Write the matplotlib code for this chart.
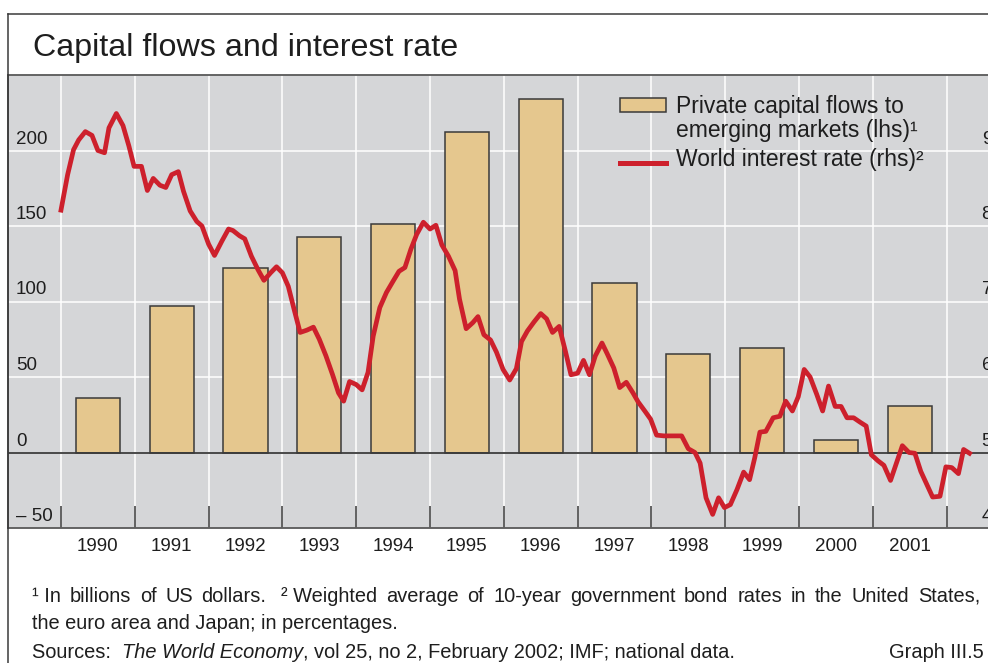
import matplotlib
matplotlib.use("Agg")
import matplotlib.pyplot as plt
from matplotlib.lines import Line2D
from matplotlib.patches import Rectangle
from matplotlib.transforms import blended_transform_factory, ScaledTranslation

plt.rcParams["font.family"] = ["Liberation Sans", "DejaVu Sans"]

# -----------------------------
# Data
# -----------------------------
years = [1990, 1991, 1992, 1993, 1994, 1995, 1996, 1997, 1998, 1999, 2000, 2001]
year_labels = [str(y) for y in years]
# private capital flows to emerging markets, bn USD (lhs)
flows = [36, 97, 122, 143, 151, 212, 234, 112, 65, 69, 8, 31]

# world interest rate, % (rhs), roughly monthly
rate_t = [1990.00, 1990.09, 1990.17, 1990.24, 1990.33, 1990.42, 1990.50, 1990.59, 1990.65, 1990.75, 1990.84, 1990.92, 1990.99,
          1991.09, 1991.17, 1991.25, 1991.34, 1991.42, 1991.50, 1991.59, 1991.66, 1991.75, 1991.84, 1991.91,
          1992.00, 1992.08, 1992.18, 1992.27, 1992.33, 1992.42, 1992.49, 1992.58, 1992.67, 1992.75, 1992.84, 1992.92,
          1993.00, 1993.08, 1993.16, 1993.24, 1993.33, 1993.42, 1993.50, 1993.59, 1993.68, 1993.76, 1993.83, 1993.91,
          1994.00, 1994.08, 1994.16, 1994.23, 1994.32, 1994.41, 1994.50, 1994.58, 1994.66, 1994.74, 1994.82, 1994.91,
          1995.00, 1995.08, 1995.16, 1995.25, 1995.34, 1995.40, 1995.49, 1995.58, 1995.65, 1995.73, 1995.82, 1995.90,
          1995.99, 1996.08, 1996.17, 1996.24, 1996.32, 1996.41, 1996.50, 1996.58, 1996.66, 1996.75, 1996.83, 1996.91,
          1997.00, 1997.08, 1997.16, 1997.24, 1997.33, 1997.40, 1997.49, 1997.57, 1997.66, 1997.75, 1997.82, 1997.91,
          1997.99, 1998.07, 1998.17, 1998.30, 1998.41, 1998.50, 1998.59, 1998.66, 1998.74, 1998.83, 1998.91,
          1998.99, 1999.07, 1999.16, 1999.25, 1999.33, 1999.40, 1999.47, 1999.55, 1999.65, 1999.74, 1999.82, 1999.91,
          1999.99, 2000.07, 2000.15, 2000.24, 2000.32, 2000.40, 2000.49, 2000.57, 2000.65, 2000.74, 2000.83, 2000.91,
          2000.98, 2001.07, 2001.15, 2001.24, 2001.32, 2001.40, 2001.49, 2001.57, 2001.65, 2001.73, 2001.81, 2001.91,
          2001.99, 2002.07, 2002.16, 2002.23, 2002.31]
rate_v = [8.21, 8.68, 9.01, 9.14, 9.25, 9.20, 9.00, 8.97, 9.30, 9.49, 9.33, 9.06, 8.79,
          8.79, 8.47, 8.63, 8.54, 8.51, 8.68, 8.72, 8.46, 8.20, 8.06, 8.00,
          7.76, 7.61, 7.80, 7.96, 7.94, 7.87, 7.83, 7.60, 7.42, 7.28, 7.38, 7.46,
          7.38, 7.20, 6.89, 6.59, 6.62, 6.66, 6.50, 6.28, 6.03, 5.79, 5.68, 5.94,
          5.90, 5.83, 6.06, 6.54, 6.92, 7.12, 7.27, 7.40, 7.45, 7.69, 7.89, 8.05,
          7.96, 8.01, 7.75, 7.60, 7.41, 7.03, 6.64, 6.72, 6.80, 6.56, 6.49, 6.33,
          6.10, 5.96, 6.11, 6.47, 6.61, 6.73, 6.84, 6.77, 6.59, 6.67, 6.36, 6.03,
          6.05, 6.22, 6.03, 6.28, 6.45, 6.31, 6.12, 5.86, 5.93, 5.79, 5.67, 5.55,
          5.44, 5.23, 5.22, 5.22, 5.22, 5.05, 5.00, 4.86, 4.40, 4.18, 4.40,
          4.27, 4.31, 4.51, 4.74, 4.64, 4.93, 5.27, 5.28, 5.46, 5.48, 5.68, 5.55,
          5.74, 6.10, 6.00, 5.77, 5.55, 5.88, 5.61, 5.61, 5.46, 5.46, 5.40, 5.35,
          4.97, 4.89, 4.83, 4.63, 4.86, 5.09, 5.00, 4.99, 4.75, 4.58, 4.41, 4.42,
          4.81, 4.80, 4.72, 5.04, 4.99]

lhs_ticks = [-50, 0, 50, 100, 150, 200]
lhs_labels = ["\u2013 50", "0", "50", "100", "150", "200"]
rhs_ticks = [4, 5, 6, 7, 8, 9]
rhs_labels = ["4", "5", "6", "7", "8", "9"]

# -----------------------------
# Style
# -----------------------------
W, H = 988, 663
BG = "#d5d6d8"
BAR = "#e5c78e"
RED = "#cd202c"
DARK = "#3a3a3a"
TXT = "#1e1e1e"

fig = plt.figure(figsize=(W / 100, H / 100), dpi=100)
fig.patch.set_facecolor("white")

# plot area in pixels: x 8..996, y 75..528 (right edge runs past the picture)
ax = fig.add_axes([8 / W, (H - 528) / H, 988 / W, 453 / H])
ax.set_facecolor(BG)
ax.set_xlim(1989.282, 2002.669)
ax.set_ylim(-50, 250)

ax.set_xticks(range(1990, 2003))
ax.set_yticks(range(-50, 251, 50))
ax.grid(True, color="white", lw=1.1)
ax.set_axisbelow(True)
ax.tick_params(axis="x", which="major", direction="in", length=15.8, width=1.1,
               color=DARK, labelbottom=False)
ax.set_xticks([y + 0.5 for y in years], minor=True)
ax.set_xticklabels(year_labels, minor=True)
ax.tick_params(axis="x", which="minor", length=0, pad=7, labelsize=13.5, labelcolor=TXT)
ax.tick_params(axis="y", length=0, labelleft=False)
for s in ax.spines.values():
    s.set_color(DARK)
    s.set_linewidth(1.1)

ax.bar([y + 0.5 for y in years], flows, width=0.6, color=BAR, edgecolor=DARK,
       linewidth=1.1, zorder=2)
ax.axhline(0, color=DARK, lw=1.3, zorder=2.5)

ax2 = ax.twinx()
ax2.set_ylim(4, 10)
ax2.set_yticks([])
for s in ax2.spines.values():
    s.set_visible(False)
ax2.plot(rate_t, rate_v, color=RED, lw=3.4, zorder=3)

# axis labels sit just above their gridline, inside the plot
up = ScaledTranslation(0, 7 / 100, fig.dpi_scale_trans)
tl = blended_transform_factory(ax.transAxes, ax.transData) + up
for v, lab in zip(lhs_ticks, lhs_labels):
    ax.text(0.008, v, lab, transform=tl, ha="left", va="baseline", fontsize=13.5, color=TXT)
tr = blended_transform_factory(ax2.transAxes, ax2.transData) + up
for v, lab in zip(rhs_ticks, rhs_labels):
    ax2.text(0.996, v, lab, transform=tr, ha="right", va="baseline", fontsize=13.5, color=TXT)

# legend
ax.add_patch(Rectangle((0.6194, 0.9183), 0.0466, 0.0309, transform=ax.transAxes,
                       facecolor=BAR, edgecolor=DARK, lw=1.1, zorder=4))
ax.add_line(Line2D([0.6194, 0.666], [0.8057, 0.8057], transform=ax.transAxes,
                   color=RED, lw=3.6, zorder=4))
lx = (676 - 8) / 988
for yb, s in [(112.7, "Private capital flows to"), (137, "emerging markets (lhs)\u00b9"),
              (166, "World interest rate (rhs)\u00b2")]:
    ax.text(lx, (528 - yb) / 453, s, transform=ax.transAxes, ha="left", va="baseline",
            fontsize=16.5, color=TXT, zorder=4)

# frame
fig.add_artist(Line2D([8 / W, 1], [1 - 14 / H, 1 - 14 / H], transform=fig.transFigure,
                      color=DARK, lw=1.1))
fig.add_artist(Line2D([8 / W, 8 / W], [1 - 14 / H, 0], transform=fig.transFigure,
                      color=DARK, lw=1.1))

fig.text(33 / W, 1 - 56 / H, "Capital flows and interest rate", fontsize=23.2,
         va="baseline", ha="left", color=TXT)

# footnotes
FS = 14.4
renderer = fig.canvas.get_renderer()

# first line is justified to the right margin
words = ["\u00b9 In", "billions", "of", "US", "dollars.", "\u00b2 Weighted", "average", "of",
         "10-year", "government", "bond", "rates", "in", "the", "United", "States,"]
gap_w = [1, 1, 1, 1, 1.7, 1, 1, 1, 1, 1, 1, 1, 1, 1, 1]
items = [fig.text(0, 1 - 602 / H, w, fontsize=FS, va="baseline", ha="left", color=TXT)
         for w in words]
widths = [t.get_window_extent(renderer).width for t in items]
gap = (980 - 32 - sum(widths)) / sum(gap_w)
x = 32
for i, t in enumerate(items):
    t.set_x(x / W)
    x += widths[i] + (gap * gap_w[i] if i < len(gap_w) else 0)

fig.text(32 / W, 1 - 629 / H, "the euro area and Japan; in percentages.", fontsize=FS,
         va="baseline", ha="left", color=TXT)

x = 32
for s, st in [("Sources:  ", "normal"), ("The World Economy", "italic"),
              (", vol 25, no 2, February 2002; IMF; national data.", "normal")]:
    t = fig.text(x / W, 1 - 658 / H, s, fontsize=FS, style=st, va="baseline", ha="left", color=TXT)
    x = t.get_window_extent(renderer).x1
fig.text(984 / W, 1 - 658 / H, "Graph III.5", fontsize=FS, va="baseline", ha="right", color=TXT)

fig.savefig("out.png", dpi=100)
